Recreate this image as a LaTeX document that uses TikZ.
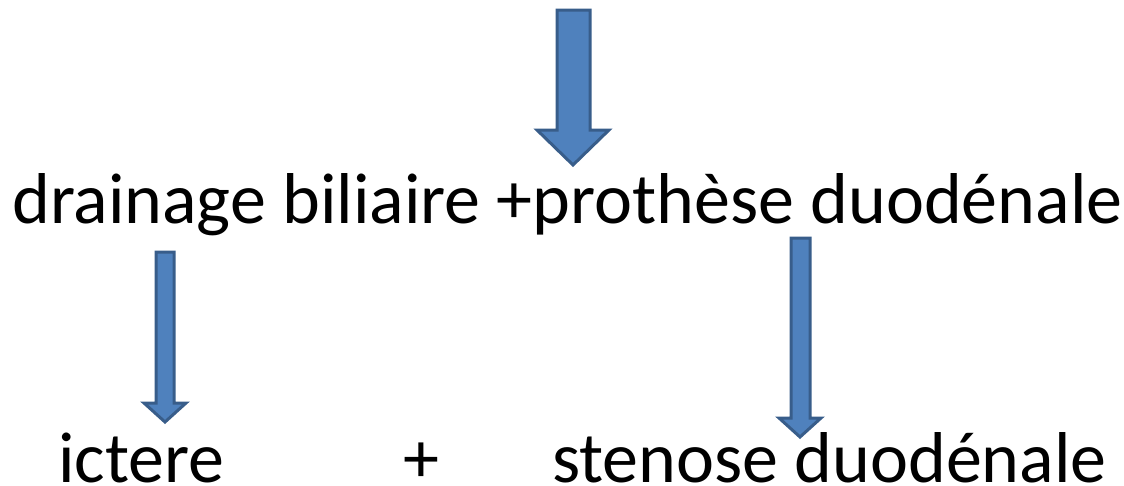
\documentclass[tikz,border=0pt]{standalone}
\usepackage{fontspec}
\setmainfont{Carlito}
\definecolor{arrowfill}{HTML}{4F81BD}
\definecolor{arrowline}{HTML}{385D8A}
\tikzset{
  blockarrow/.style={fill=arrowfill, draw=arrowline, line width=3pt, line join=miter},
  label/.style={inner sep=0pt, font=\fontsize{72}{86}\selectfont, text=black}
}
\begin{document}
\begin{tikzpicture}[x=1pt, y=-1pt]
  \useasboundingbox (0,0) rectangle (1124,485);
  % block arrow: shaft from top down to head base, then triangular head
  \draw[blockarrow] (557,10) -- (590,10) -- (590,130) -- (609,130) -- (573,165)
     -- (537,130) -- (557,130) -- cycle;
  \draw[blockarrow] (156,252) -- (174,252) -- (174,403) -- (186,403) -- (165,422)
     -- (144,403) -- (156,403) -- cycle;
  \draw[blockarrow] (791,238) -- (810,238) -- (810,418) -- (821,418) -- (800,437)
     -- (779,418) -- (791,418) -- cycle;
  % texts
  \node[label, anchor=base west] (main) at (12,223) {drainage biliaire +prothèse duodénale};
  \node[label, anchor=base west] (ict) at (58,482) {ictere};
  \node[label, anchor=base west] (plus) at (403,482) {+};
  \node[label, anchor=base west] (sten) at (552,482) {stenose duodénale};
\end{tikzpicture}
\end{document}
